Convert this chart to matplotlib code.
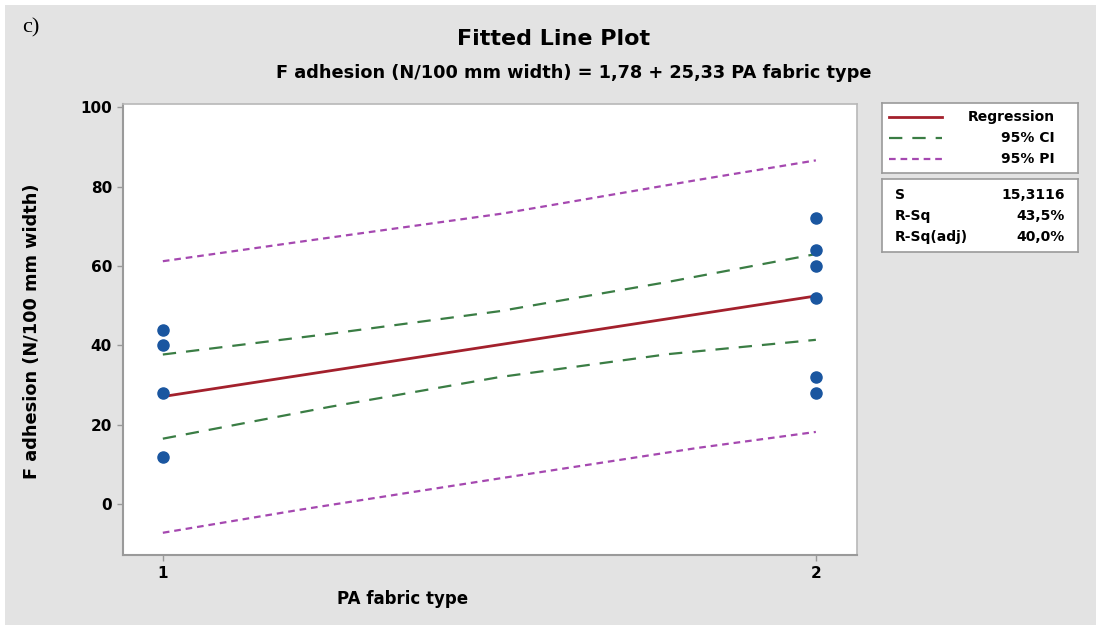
import matplotlib.pyplot as plt
from matplotlib.patches import Rectangle
from matplotlib.lines import Line2D

# Observations
fabric_type_1 = [1, 1, 1, 1]
adhesion_1 = [44, 40, 28, 12]
fabric_type_2 = [2, 2, 2, 2, 2, 2]
adhesion_2 = [72, 64, 60, 52, 32, 28]

# Regression line F = 1,78 + 25,33 * type
reg_x = [1, 2]
reg_y = [27.11, 52.44]

# 95% confidence band
ci_x = [1, 1.255, 1.515, 1.774, 2]
ci_upper = [37.7, 42.9, 48.6, 56.0, 63.0]
ci_lower = [16.5, 24.5, 32.0, 37.8, 41.4]

# 95% prediction band
pi_x = [1, 1.21, 1.52, 1.82, 2]
pi_upper = [61.2, 66.1, 73.2, 81.7, 86.6]
pi_lower = [-7.2, -1.4, 6.6, 14.2, 18.2]

yticks = [0, 20, 40, 60, 80, 100]
xticks = [1, 2]

stat_names = ["S", "R-Sq", "R-Sq(adj)"]
stat_values = ["15,3116", "43,5%", "40,0%"]

W, H = 1099, 631
fig = plt.figure(figsize=(W / 100, H / 100), dpi=100, facecolor="white")
plt.rcParams["font.family"] = "DejaVu Sans"

# grey panel behind everything
fig.patches.append(Rectangle((5 / W, 6 / H), 1091 / W, 620 / H, transform=fig.transFigure,
                             facecolor="#e3e3e3", edgecolor="none", zorder=-10))

ax = fig.add_axes([123 / W, 1 - 555 / H, 734 / W, 451 / H])
ax.set_facecolor("white")

red = "#a3202c"
green = "#3a7d44"
purple = "#a548b0"
blue = "#1a56a0"

ax.plot(pi_x, pi_upper, color=purple, lw=1.6, dashes=(3, 2.2))
ax.plot(pi_x, pi_lower, color=purple, lw=1.6, dashes=(3, 2.2))
ax.plot(ci_x, ci_upper, color=green, lw=1.6, dashes=(6, 4.5))
ax.plot(ci_x, ci_lower, color=green, lw=1.6, dashes=(6, 4.5))
ax.plot(reg_x, reg_y, color=red, lw=2)
ax.plot(fabric_type_1, adhesion_1, "o", color=blue, ms=8, zorder=5)
ax.plot(fabric_type_2, adhesion_2, "o", color=blue, ms=8, zorder=5)

ax.set_xlim(0.939, 2.063)
ax.set_ylim(-12.8, 100.8)
ax.set_xticks(xticks)
ax.set_yticks(yticks)
ax.set_xticklabels([str(t) for t in xticks], fontweight="bold", fontsize=11)
ax.set_yticklabels([str(t) for t in yticks], fontweight="bold", fontsize=11)
ax.tick_params(length=4, width=1, color="#999999", pad=4)
for side in ["left", "bottom"]:
    ax.spines[side].set_color("#9a9a9a")
    ax.spines[side].set_linewidth(1.5)
for side in ["top", "right"]:
    ax.spines[side].set_color("#b8b8b8")
    ax.spines[side].set_linewidth(1.2)

ax.set_xlabel("PA fabric type", fontweight="bold", fontsize=12)
ax.xaxis.set_label_coords(0.381, -0.078)
ax.set_ylabel("F adhesion (N/100 mm width)", fontweight="bold", fontsize=12.8)
ax.yaxis.set_label_coords(-0.112, 0.497)

fig.text(554 / W, 1 - 39 / H, "Fitted Line Plot", ha="center", va="center",
         fontweight="bold", fontsize=16)
fig.text(574 / W, 1 - 73 / H, "F adhesion (N/100 mm width) = 1,78 + 25,33 PA fabric type",
         ha="center", va="center", fontweight="bold", fontsize=12.8)
fig.text(22 / W, 1 - 28 / H, "c)", ha="left", va="center", fontsize=16,
         family="Liberation Serif")

# legend box
lax = fig.add_axes([882 / W, 1 - 173 / H, 196 / W, 70 / H])
lax.set_xlim(0, 196)
lax.set_ylim(70, 0)
lax.set_xticks([])
lax.set_yticks([])
for s in lax.spines.values():
    s.set_color("#9a9a9a")
    s.set_linewidth(1.2)
entries = [("Regression", red, None, 2), ("95% CI", green, (6, 4.5), 1.6),
           ("95% PI", purple, (3, 2.2), 1.6)]
for i, (name, col, dash, lw) in enumerate(entries):
    y = 14 + i * 21
    ln = Line2D([7, 60], [y, y], color=col, lw=lw)
    if dash:
        ln.set_dashes(dash)
    lax.add_line(ln)
    lax.text(173, y, name, ha="right", va="center", fontweight="bold", fontsize=10)

# summary statistics box
sax = fig.add_axes([882 / W, 1 - 252 / H, 196 / W, 73 / H])
sax.set_xlim(0, 196)
sax.set_ylim(73, 0)
sax.set_xticks([])
sax.set_yticks([])
for s in sax.spines.values():
    s.set_color("#9a9a9a")
    s.set_linewidth(1.2)
for i, (n, v) in enumerate(zip(stat_names, stat_values)):
    y = 16 + i * 21
    sax.text(13, y, n, ha="left", va="center", fontweight="bold", fontsize=10)
    sax.text(183, y, v, ha="right", va="center", fontweight="bold", fontsize=10)

fig.savefig("out.png", dpi=100, facecolor="white")
